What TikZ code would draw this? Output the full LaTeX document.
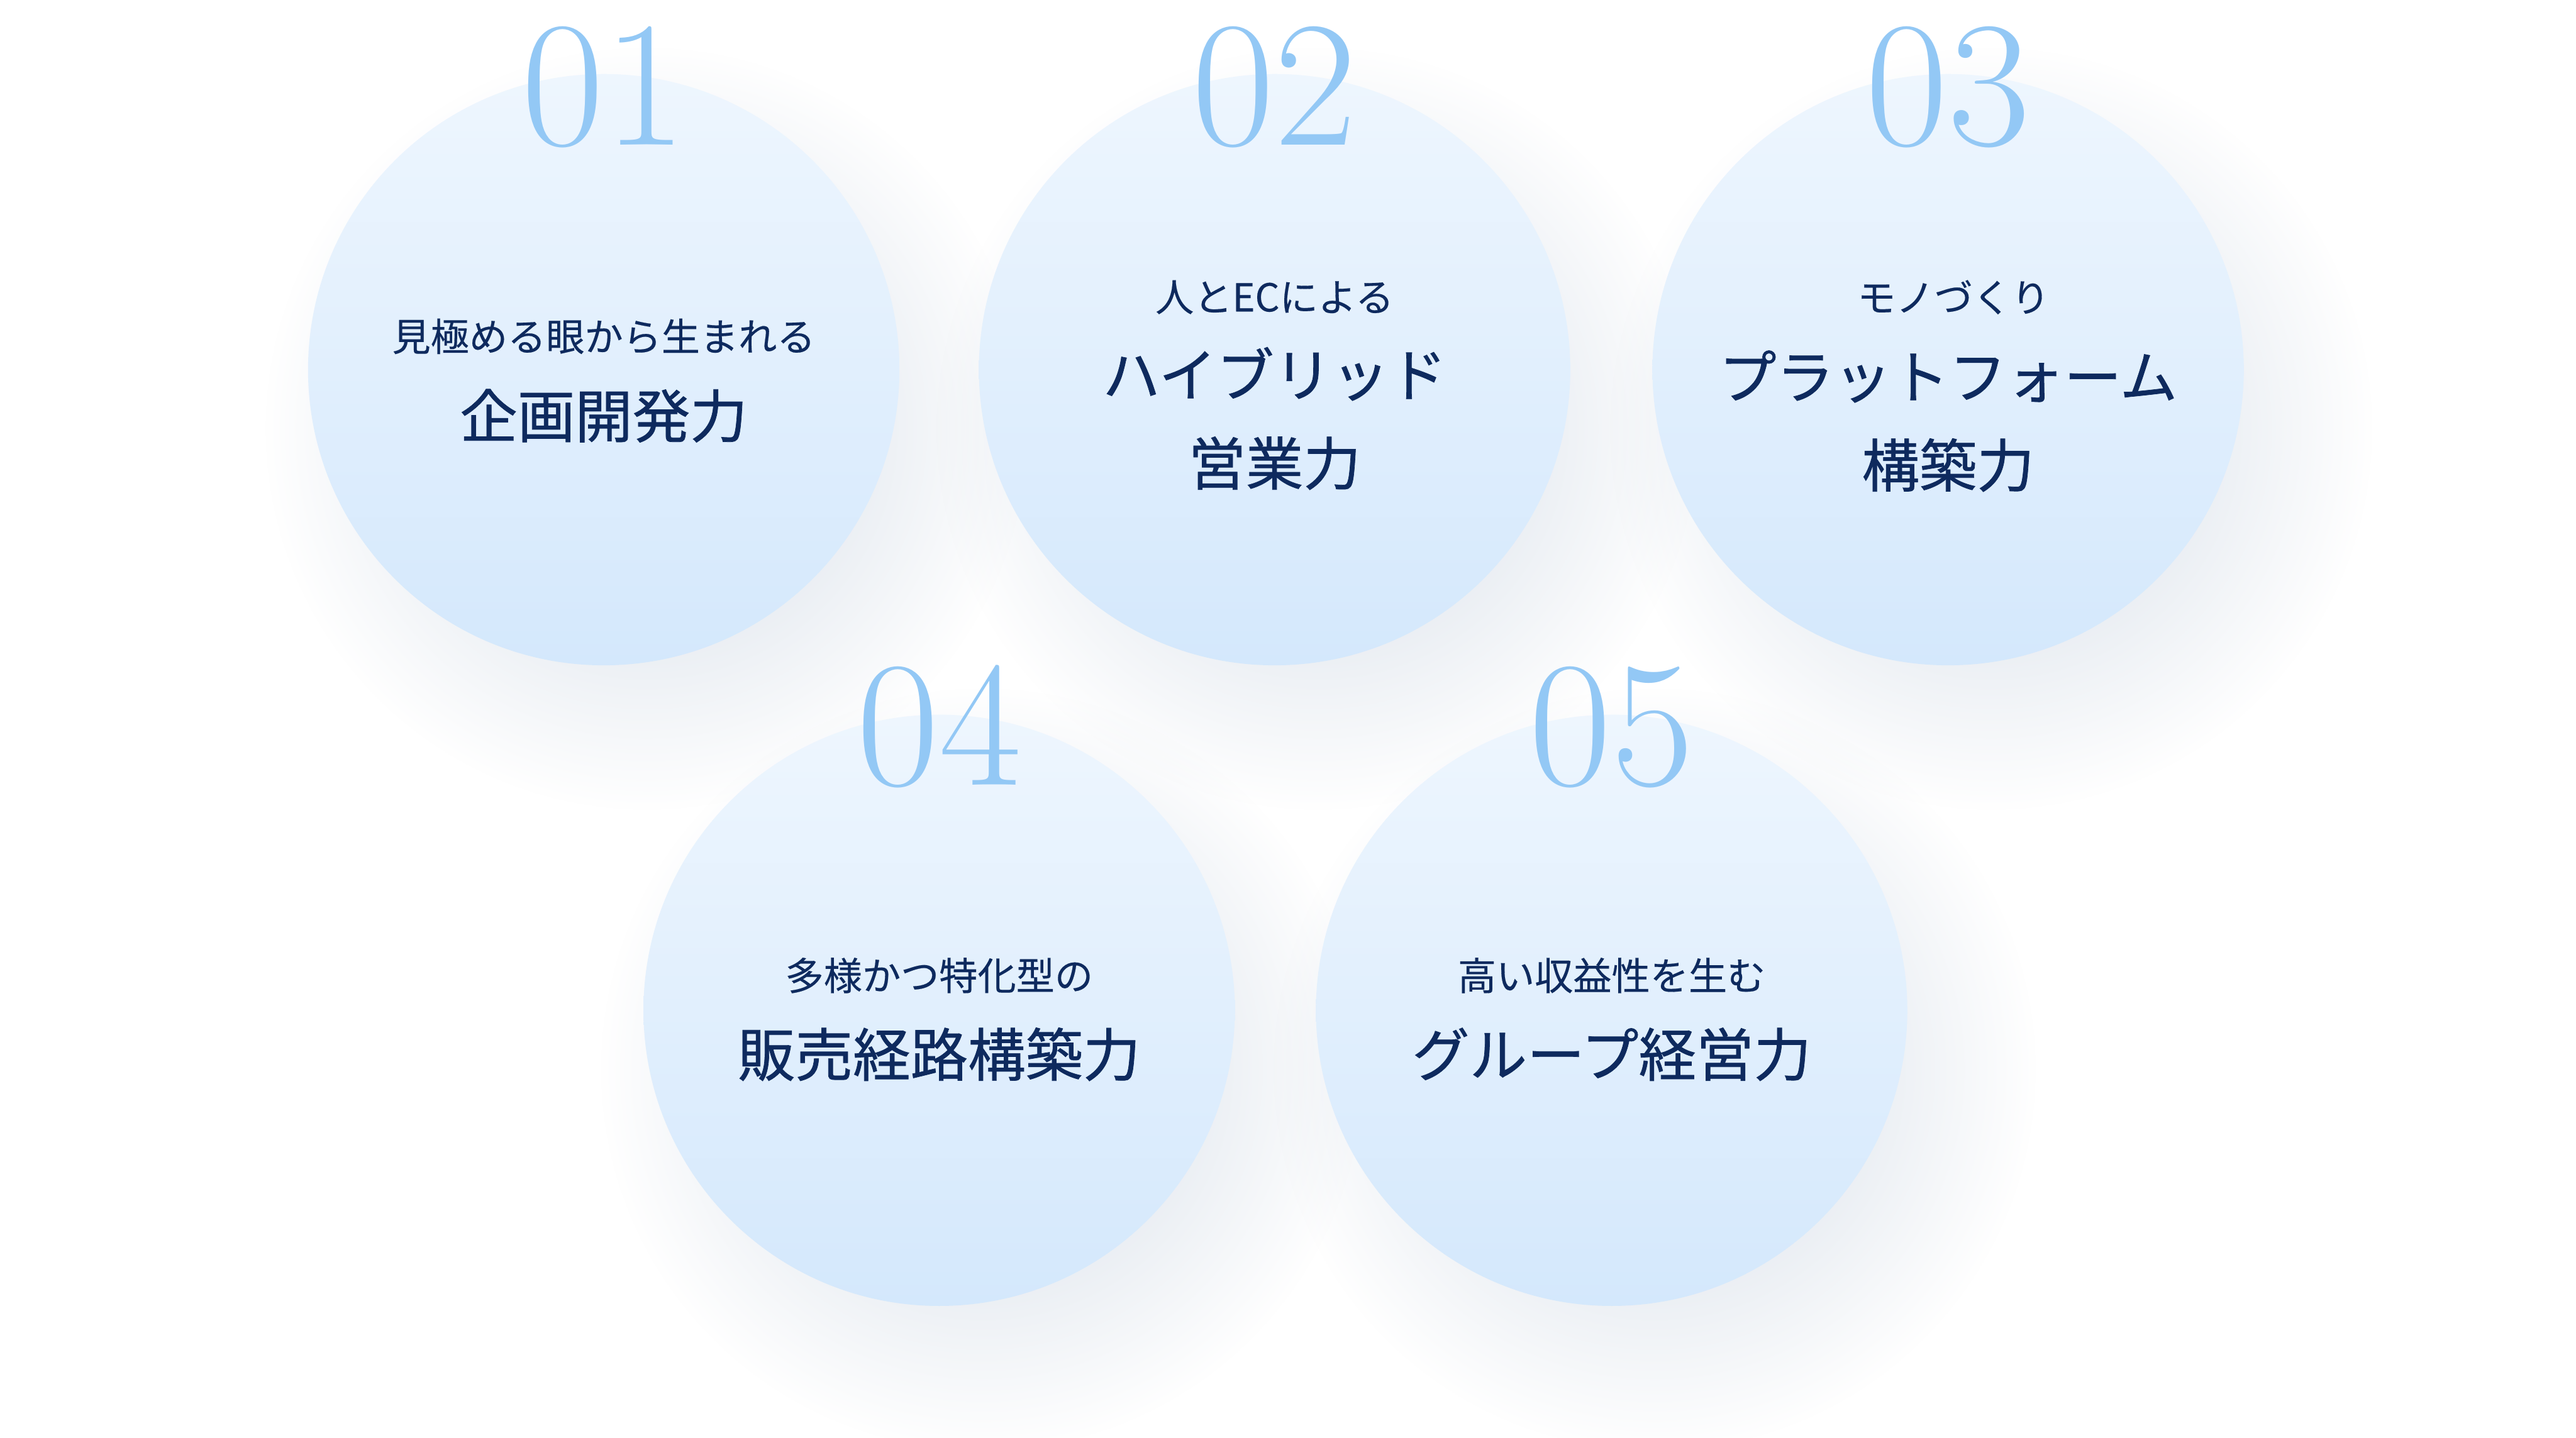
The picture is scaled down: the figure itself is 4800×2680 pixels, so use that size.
\documentclass[tikz,border=0pt]{standalone}
\usepackage{fontspec}
\newfontfamily\jpsub[FakeBold=0.3]{Noto Sans CJK JP}
\newfontfamily\jpmain[FakeBold=0.8]{Noto Sans CJK JP}
\definecolor{bTop}{HTML}{EEF6FE}
\definecolor{bBot}{HTML}{D4E8FC}
\definecolor{bNum}{HTML}{93C8F5}
\definecolor{bNavy}{HTML}{0E2A5E}
\definecolor{bShadow}{HTML}{D6DEE8}
\usetikzlibrary{fadings}

\pgfdeclareradialshading{bubbleshadowshade}{\pgfpointorigin}{color(0bp)=(white); color(14bp)=(white); color(25bp)=(black); color(50bp)=(black)}
\pgfdeclarefading{bubbleshadow}{\pgfuseshading{bubbleshadowshade}}

\begin{document}
\begin{tikzpicture}[x=0.1mm, y=0.1mm,
  bubble/.style={circle, draw=none, inner sep=0pt, minimum size=11.02cm,
                 top color=bTop, bottom color=bBot},
  halo/.style={fill=bShadow, opacity=.5, path fading=bubbleshadow},
  numlabel/.style={anchor=base, text=bNum, inner sep=0pt,
                   font=\fontsize{95}{95}\selectfont},
  subline/.style={text=bNavy, inner sep=0pt, font=\jpsub\fontsize{20.4}{24}\selectfont},
  mainline/.style={text=bNavy, inner sep=0pt, align=center,
                   font=\jpmain\fontsize{30.5}{47}\selectfont}]
  \useasboundingbox (0,0) rectangle (4800,2680);
  \fill[white] (0,0) rectangle (4800,2680);

  \coordinate (p1) at (1125,1991);
  \coordinate (p2) at (2375,1991);
  \coordinate (p3) at (3630,1991);
  \coordinate (p4) at (1750,797);
  \coordinate (p5) at (3003,797);

  % soft shadows first
  \foreach \i in {1,...,5}
    \fill[halo] ([shift={(80,-110)}]p\i) circle[radius=7.1cm];

  \node[bubble] (c1) at (p1) {};
  \node[bubble] (c2) at (p2) {};
  \node[bubble] (c3) at (p3) {};
  \node[bubble] (c4) at (p4) {};
  \node[bubble] (c5) at (p5) {};

  \node[numlabel] (n1) at (1125,2410) {01};
  \node[numlabel] (n2) at (2375,2410) {02};
  \node[numlabel] (n3) at (3630,2410) {03};
  \node[numlabel] (n4) at (1750,1217) {04};
  \node[numlabel] (n5) at (3003,1217) {05};

  \node[subline]  (s1) at (1125,2053) {見極める眼から生まれる};
  \node[mainline] (m1) at (1125,1905) {企画開発力};
  \node[subline]  (s2) at (2375,2126) {人とECによる};
  \node[mainline] (m2) at (2375,1900) {ハイブリッド\\営業力};
  \node[subline]  (s3) at (3640,2126) {モノづくり};
  \node[mainline] (m3) at (3630,1895) {プラットフォーム\\構築力};
  \node[subline]  (s4) at (1750,862)  {多様かつ特化型の};
  \node[mainline] (m4) at (1750,715)  {販売経路構築力};
  \node[subline]  (s5) at (3003,862)  {高い収益性を生む};
  \node[mainline] (m5) at (3003,715)  {グループ経営力};
\end{tikzpicture}
\end{document}
